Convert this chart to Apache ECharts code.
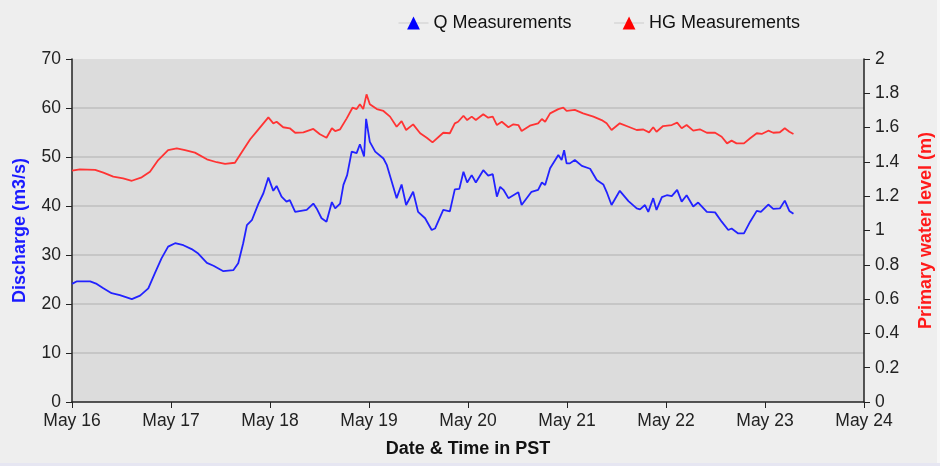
<!DOCTYPE html>
<html>
<head>
<meta charset="utf-8">
<script src="https://cdn.jsdelivr.net/npm/echarts@6/dist/echarts.min.js"></script>
<style>
  html, body { margin: 0; padding: 0; background: #eeeeee; }
  #chart { width: 940px; height: 466px; }
</style>
</head>
<body>
<div id="chart"></div>
<script>
// hours after May 16 00:00 PST
const qHours = [0, 1.1, 4.4, 6.0, 7.6, 9.6, 11.6, 14.5, 16.5, 18.5, 20.1, 21.7, 23.3, 25.0, 27.0, 29.0, 30.6, 32.7, 34.3, 36.7, 39.1, 40.3, 41.5, 42.4, 43.6, 45.2,
  46.4, 47.6, 48.8, 49.6, 50.8, 52.0, 52.8, 54.1, 56.9, 58.5, 59.3, 60.5, 61.7, 63.0, 63.8, 65.0, 65.8, 66.7, 67.8, 69.0, 69.8, 70.8, 71.3, 72.2, 73.5,
  75.5, 76.3, 77.5, 78.7, 79.9, 81.0, 82.7, 83.9, 85.6, 87.2, 88.0, 90.0, 91.6, 92.8, 93.9, 94.9, 95.8, 96.9, 97.9, 99.7, 100.9, 102.0, 103.0, 103.8,
  104.6, 105.8, 107.0, 108.2, 109.0, 111.4, 113.0, 113.9, 114.7, 115.9, 117.9, 118.7, 119.3, 119.9, 120.7, 121.9, 123.6, 125.6, 127.2, 128.8, 129.6,
  130.8, 132.8, 134.9, 136.9, 137.7, 138.9, 139.7, 140.9, 141.7, 143.0, 144.2, 145.4, 146.7, 147.8, 149.0, 150.6, 151.8, 153.9, 155.9, 157.5, 159.1,
  159.9, 161.5, 162.9, 164.4, 166.0, 167.0, 168.8, 170.0, 171.6, 172.8, 173.9, 174.9];
const qValues = [24.1, 24.6, 24.6, 24.1, 23.2, 22.2, 21.8, 21.0, 21.7, 23.2, 26.3, 29.3, 31.7, 32.4, 32.0, 31.2, 30.3, 28.4, 27.8, 26.7, 26.9, 28.3, 32.4, 36.1, 37.1, 40.5,
  42.6, 45.8, 43.1, 44.1, 41.9, 40.9, 41.2, 38.8, 39.2, 40.5, 39.5, 37.5, 36.8, 40.8, 39.5, 40.5, 44.3, 46.3, 51.1, 50.8, 52.6, 50.1, 57.8, 53.1, 51.1,
  49.7, 48.4, 45.0, 41.6, 44.4, 40.2, 42.9, 38.8, 37.5, 35.1, 35.4, 39.2, 38.9, 43.4, 43.5, 47.0, 44.8, 46.3, 44.8, 47.3, 46.2, 46.5, 41.9, 43.9,
  43.3, 41.6, 42.2, 42.8, 40.2, 42.9, 43.3, 44.8, 44.3, 47.7, 50.4, 49.4, 51.4, 48.7, 48.7, 49.4, 48.2, 47.6, 45.3, 44.4, 42.9,
  40.2, 43.1, 41.0, 39.5, 39.3, 40.2, 38.8, 41.6, 39.2, 41.8, 42.2, 42.0, 43.3, 40.9, 42.2, 39.9, 40.7, 38.8, 38.7, 36.8, 35.1,
  35.4, 34.4, 34.4, 36.8, 39.0, 38.8, 40.3, 39.4, 39.5, 41.1, 39.0, 38.4];

const hgHours = [0, 1.9, 5.6, 7.6, 10.0, 12.4, 14.5, 16.9, 18.9, 20.9, 23.3, 25.4, 27.4, 29.8, 32.7, 35.1, 37.1, 39.5, 41.5, 43.2, 45.2,
  47.6, 48.8, 49.6, 51.2, 52.8, 54.1, 56.1, 58.5, 60.1, 61.7, 63.0, 63.8, 65.0, 66.6, 68.0, 69.0, 69.8, 70.6, 71.4, 72.2, 73.9,
  75.5, 77.1, 78.7, 79.9, 81.0, 82.7, 84.4, 86.0, 87.4, 90.0, 91.6, 92.8, 93.6, 94.9, 95.8, 96.9, 97.9, 99.7, 100.9, 102.0, 103.0,
  104.2, 105.8, 107.0, 108.2, 109.0, 111.0, 113.0, 113.9, 114.7, 115.9, 117.9, 119.1, 119.9, 121.9, 123.9, 126.4, 128.4, 129.6,
  130.8, 132.8, 134.9, 136.9, 138.5, 139.9, 140.9, 141.7, 143.3, 145.4, 146.7, 147.8, 149.0, 150.6, 152.2, 153.9, 155.9, 157.5,
  158.8, 159.9, 161.1, 162.9, 164.4, 166.0, 167.2, 168.8, 170.0, 171.6, 172.8, 173.9, 174.9];
const hgValues = [1.349, 1.357, 1.353, 1.337, 1.314, 1.304, 1.290, 1.310, 1.343, 1.411, 1.469, 1.479, 1.469, 1.454, 1.415, 1.398, 1.388, 1.395, 1.469, 1.532, 1.590,
  1.660, 1.625, 1.634, 1.602, 1.596, 1.570, 1.572, 1.592, 1.561, 1.541, 1.596, 1.580, 1.590, 1.654, 1.716, 1.708, 1.736, 1.708, 1.794, 1.736, 1.708,
  1.697, 1.664, 1.605, 1.638, 1.586, 1.619, 1.567, 1.541, 1.514, 1.570, 1.567, 1.625, 1.634, 1.669, 1.644, 1.664, 1.644, 1.678, 1.658, 1.664, 1.615,
  1.634, 1.602, 1.619, 1.615, 1.580, 1.611, 1.625, 1.650, 1.634, 1.683, 1.708, 1.716, 1.697, 1.703, 1.683, 1.664, 1.644, 1.625,
  1.586, 1.625, 1.605, 1.586, 1.589, 1.572, 1.602, 1.576, 1.609, 1.615, 1.629, 1.596, 1.615, 1.582, 1.590, 1.570, 1.570, 1.547,
  1.508, 1.524, 1.508, 1.508, 1.538, 1.567, 1.563, 1.582, 1.570, 1.573, 1.596, 1.576, 1.563];

const dayLabels = ['May 16', 'May 17', 'May 18', 'May 19', 'May 20', 'May 21', 'May 22', 'May 23', 'May 24'];

const font = 'Liberation Sans, Arial, sans-serif';
const chart = echarts.init(document.getElementById('chart'));

chart.setOption({
  backgroundColor: '#eeeeee',
  animation: false,
  textStyle: { fontFamily: font },
  graphic: [
    { type: 'rect', left: 0, bottom: 0, shape: { width: 940, height: 3 }, style: { fill: '#e6e6f2' }, silent: true },
    { type: 'rect', right: 0, top: 0, shape: { width: 3, height: 463 }, style: { fill: '#f7f7f7' }, silent: true }
  ],
  legend: {
    left: 393, top: 9,
    itemGap: 42, itemWidth: 30, itemHeight: 16,
    textStyle: { fontSize: 18, color: '#111' },
    lineStyle: { color: '#cccccc', width: 1 },
    data: ['Q Measurements', 'HG Measurements']
  },
  grid: {
    left: 72, right: 76, top: 59, bottom: 64,
    outerBoundsMode: 'none',
    show: true, backgroundColor: '#dcdcdc', borderWidth: 0
  },
  xAxis: {
    type: 'value', min: 0, max: 192, interval: 24,
    name: 'Date & Time in PST', nameLocation: 'middle', nameGap: 38,
    nameTextStyle: { fontSize: 18, fontWeight: 'bold', color: '#111' },
    axisLine: { lineStyle: { color: '#222', width: 1.5 } },
    axisTick: { length: 6, lineStyle: { color: '#222' } },
    axisLabel: { fontSize: 17.5, color: '#222', margin: 10, formatter: v => dayLabels[Math.round(v / 24)] },
    splitLine: { show: false }
  },
  yAxis: [{
    type: 'value', min: 0, max: 70, interval: 10,
    name: 'Discharge (m3/s)', nameLocation: 'middle', nameGap: 43,
    nameTextStyle: { fontSize: 18, fontWeight: 'bold', color: '#1a1aff' },
    axisLine: { show: true, lineStyle: { color: '#222', width: 1.5 } },
    axisTick: { show: true, length: 6, lineStyle: { color: '#222' } },
    axisLabel: { fontSize: 17.5, color: '#222', margin: 11 },
    splitLine: { show: true, showMinLine: false, showMaxLine: false, lineStyle: { color: '#c6c6c6', width: 2 } }
  }, {
    type: 'value', min: 0, max: 2, interval: 0.2, position: 'right',
    name: 'Primary water level (m)', nameLocation: 'middle', nameGap: 53,
    nameTextStyle: { fontSize: 18, fontWeight: 'bold', color: '#ff1a1a' },
    axisLine: { show: true, lineStyle: { color: '#222', width: 1.5 } },
    axisTick: { show: true, length: 6, lineStyle: { color: '#222' } },
    axisLabel: { fontSize: 17.5, color: '#222', margin: 11 },
    splitLine: { show: false }
  }],
  series: [{
    name: 'Q Measurements', type: 'line', yAxisIndex: 0,
    symbol: 'triangle', symbolSize: 14, showSymbol: false,
    itemStyle: { color: '#0000ff' },
    lineStyle: { color: '#2222ff', width: 1.8 },
    data: qHours.map((h, i) => [h, qValues[i]])
  }, {
    name: 'HG Measurements', type: 'line', yAxisIndex: 1,
    symbol: 'triangle', symbolSize: 14, showSymbol: false,
    itemStyle: { color: '#ff0000' },
    lineStyle: { color: '#ff3333', width: 1.8 },
    data: hgHours.map((h, i) => [h, hgValues[i]])
  }]
});
</script>
</body>
</html>
